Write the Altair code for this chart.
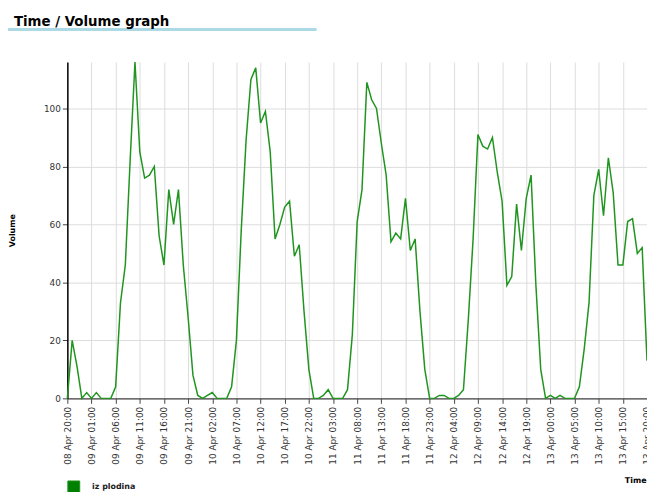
import altair as alt
import pandas as pd

# Hourly volume readings, 08 Apr 20:00 -> 13 Apr 20:00
volume = [
    0, 20, 11, 0, 2, 0, 2, 0, 0, 0,
    4, 33, 46, 82, 116, 85, 76, 77, 80, 56,
    46, 72, 60, 72, 46, 28, 8, 1, 0, 1,
    2, 0, 0, 0, 4, 20, 58, 89, 110, 114,
    95, 99, 85, 55, 60, 66, 68, 49, 53, 30,
    10, 0, 0, 1, 3, 0, 0, 0, 3, 22,
    61, 72, 109, 103, 100, 88, 77, 54, 57, 55,
    69, 51, 55, 30, 10, 0, 0, 1, 1, 0,
    0, 1, 3, 27, 55, 91, 87, 86, 90, 78,
    68, 39, 42, 67, 51, 69, 77, 39, 10, 0,
    1, 0, 1, 0, 0, 0, 4, 17, 33, 70,
    79, 63, 83, 71, 46, 46, 61, 62, 50, 52,
    13,
]
series_name = "iz plodina"
chart_title = "Time / Volume graph"
start = "2013-04-08 20:00"
tick_every_hours = 5
y_ticks = [0, 20, 40, 60, 80, 100]
y_max = 116

t0 = pd.Timestamp(start, tz="UTC")
times_ms = [int((t0 + pd.Timedelta(hours=i)).value // 10**6) for i in range(len(volume))]
tick_ms = times_ms[::tick_every_hours]

df = pd.DataFrame({"time": times_ms, "volume": volume, "series": series_name})

FONT = "DejaVu Sans"

line = alt.Chart(df).mark_line(strokeWidth=1.5, interpolate="linear").encode(
    x=alt.X(
        "time:T",
        scale=alt.Scale(type="utc", domain=[times_ms[0], times_ms[-1]], nice=False),
        axis=alt.Axis(
            values=tick_ms,
            labelExpr="utcFormat(datum.value, '%d %b %H:%M')",
            labelAngle=270, labelFontSize=9, labelColor="#333333", labelPadding=3,
            labelFont=FONT, labelOverlap=False, labelBound=False, labelFlush=False,
            domainColor="#444444", domainWidth=1.5, tickColor="#444444", tickSize=5,
            grid=True, gridColor="#dddddd",
            title="Time", titleFont=FONT, titleFontSize=8, titleFontWeight="bold",
            titleX=585, titleY=83, titleAlign="right", titleBaseline="middle",
            titleAnchor="end",
        ),
    ),
    y=alt.Y(
        "volume:Q",
        scale=alt.Scale(domain=[0, y_max], nice=False),
        axis=alt.Axis(
            values=y_ticks, labelFontSize=9, labelColor="#333333", labelFont=FONT,
            domainColor="black", domainWidth=1.5, tickColor="#444444", tickSize=5,
            grid=True, gridColor="#dddddd",
            title="Volume", titleFont=FONT, titleFontSize=8, titleFontWeight="bold",
            titleX=-55, titleY=170, titleAngle=270, titleAlign="center",
            titleBaseline="middle",
        ),
    ),
    color=alt.Color(
        "series:N",
        scale=alt.Scale(range=["#1f951f"]),
        legend=alt.Legend(
            title=None, orient="none", legendX=0, legendY=423,
            symbolType="square", symbolSize=144, symbolFillColor="#008000",
            symbolStrokeColor="black", symbolStrokeWidth=1,
            labelFont=FONT, labelFontSize=8, labelFontWeight="bold",
            labelColor="#222222", labelOffset=12,
        ),
    ),
)

one = pd.DataFrame({"label": [chart_title]})

underline = alt.Chart(one).mark_rule(
    color="#add8e6", strokeWidth=3
).encode(x=alt.value(-63), x2=alt.value(252), y=alt.value(-33))

title_text = alt.Chart(one).mark_text(
    align="left", baseline="alphabetic", font=FONT, fontSize=13.5,
    fontWeight="bold", color="black",
).encode(x=alt.value(-54), y=alt.value(-36), text="label:N")

chart = alt.layer(line, underline, title_text).properties(
    width=586,
    height=340,
    autosize=alt.AutoSizeParams(type="none"),
    padding={"left": 60, "top": 52, "right": 0, "bottom": 92},
).configure_view(stroke=None)

chart.save("out.html", embed_options={"renderer": "svg", "actions": False})
